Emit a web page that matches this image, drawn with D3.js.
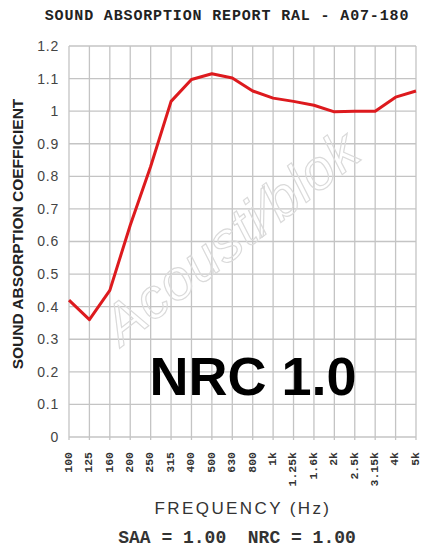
<!DOCTYPE html>
<html><head><meta charset="utf-8">
<script src="https://cdn.jsdelivr.net/npm/d3@7"></script>
<style>html,body{margin:0;padding:0;background:#fff;}</style>
</head><body>
<script>
const categories = ["100","125","160","200","250","315","400","500","630","800","1k","1.25k","1.6k","2k","2.5k","3.15k","4k","5k"];
const values = [0.42,0.36,0.45,0.65,0.83,1.03,1.097,1.115,1.102,1.062,1.04,1.03,1.018,0.998,1.0,1.0,1.043,1.062];
const yTicks = [0,0.1,0.2,0.3,0.4,0.5,0.6,0.7,0.8,0.9,1,1.1,1.2];

const W = 422, H = 548;
const svg = d3.select("body").append("svg").attr("width", W).attr("height", H);

const x = d3.scalePoint().domain(categories).range([69, 416]);
const y = d3.scaleLinear().domain([0, 1.2]).range([437, 46]);

// title
svg.append("text").attr("x", 227).attr("y", 20).attr("text-anchor", "middle")
  .attr("font-family", "Liberation Mono").attr("font-weight", "bold").attr("font-size", 15)
  .attr("letter-spacing", 0.85).attr("fill", "#222").text("SOUND ABSORPTION REPORT RAL - A07-180");

// grid
const grid = svg.append("g").attr("stroke", "#c4c4c4").attr("stroke-width", 1.3);
grid.selectAll("line.h").data(yTicks).join("line")
  .attr("x1", 69).attr("x2", 416).attr("y1", d => y(d)).attr("y2", d => y(d));
grid.selectAll("line.v").data(categories).join("line")
  .attr("x1", d => x(d)).attr("x2", d => x(d)).attr("y1", y(1.2)).attr("y2", y(0) + 3);

// watermark
svg.append("text").attr("transform", "translate(243,252) rotate(-38)")
  .attr("text-anchor", "middle").attr("font-family", "Liberation Sans").attr("font-style", "italic")
  .attr("font-size", 56).attr("fill", "none").attr("stroke", "#dadada").attr("stroke-width", 1.2)
  .attr("letter-spacing", 1).text("Acousti\u2215blok");

// y axis
const yAxis = d3.axisLeft(y).tickValues(yTicks).tickSize(0).tickPadding(10)
  .tickFormat(d => d3.format("")(+d.toFixed(1)));
const ya = svg.append("g").attr("transform", "translate(69,0)").call(yAxis);
ya.select(".domain").remove();
ya.selectAll("text").attr("font-family", "Liberation Sans").attr("font-size", 14)
  .attr("letter-spacing", 0.8).attr("fill", "#444");

// x axis
const xAxis = d3.axisBottom(x).tickSize(0).tickPadding(0);
const xa = svg.append("g").attr("transform", "translate(0,437)").call(xAxis);
xa.select(".domain").remove();
xa.selectAll("text").attr("font-family", "Liberation Mono").attr("font-weight", "bold").attr("font-size", 11.5)
  .attr("fill", "#333").attr("text-anchor", "end")
  .attr("transform", "translate(0,15) rotate(-90)").attr("x", 0).attr("y", 0).attr("dy", "0.2em");

// line
svg.append("path").datum(values).attr("fill", "none").attr("stroke", "#dd1a1e")
  .attr("stroke-width", 3).attr("stroke-linejoin", "round")
  .attr("d", d3.line().x((d, i) => x(categories[i])).y(d => y(d)));

// NRC big text
svg.append("text").attr("x", 253).attr("y", 395).attr("text-anchor", "middle")
  .attr("font-family", "Liberation Sans").attr("font-weight", "bold").attr("font-size", 54)
  .attr("fill", "#000").text("NRC 1.0");

// y label
svg.append("text").attr("transform", "translate(23,234) rotate(-90)").attr("text-anchor", "middle")
  .attr("font-family", "Liberation Sans").attr("font-weight", "bold").attr("font-size", 15.5)
  .attr("fill", "#222").text("SOUND ABSORPTION COEFFICIENT");

// x label
svg.append("text").attr("x", 243).attr("y", 514).attr("text-anchor", "middle")
  .attr("font-family", "Liberation Sans").attr("font-size", 17).attr("letter-spacing", 2.4)
  .attr("fill", "#333").text("FREQUENCY (Hz)");

// footer
svg.append("text").attr("x", 237).attr("y", 543).attr("text-anchor", "middle")
  .attr("font-family", "Liberation Mono").attr("font-weight", "bold").attr("font-size", 18)
  .attr("fill", "#333").style("white-space", "pre")
  .text("SAA = 1.00  NRC = 1.00");
</script>
</body></html>
